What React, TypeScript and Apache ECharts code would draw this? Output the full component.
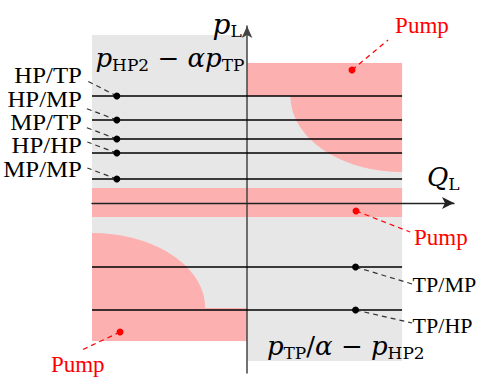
import React, { useEffect, useRef } from "react";
import * as echarts from "echarts";

// ---- data (normalised units: Q_L horizontal, p_L vertical) ----
const upperNames = ["HP/TP", "HP/MP", "MP/TP", "HP/HP", "MP/MP"];
const upperLevels = [1.07, 0.83, 0.64, 0.5, 0.24];
const lowerNames = ["TP/MP", "TP/HP"];
const lowerLevels = [-0.64, -1.07];
const upperDotQ = -0.84;
const lowerDotQ = 0.7;
const lineQFrom = -1;
const lineQTo = 1;

// operating regions [q0, q1, p0, p1]
const grayRegions = [
  [-1, 0, -1.38, 1.68],
  [0, 1, -1.58, 1.4],
];
const pumpRects = [
  [0, 1, 1.07, 1.4],
  [-1, 1, -0.14, 0.15],
  [-1, 0, -1.38, -1.05],
];
// quarter ellipses [centreQ, centreP, radiusQ, radiusP, dirQ, dirP]
const pumpEllipses = [
  [1, 1.07, 0.72, 0.76, -1, -1],
  [-1, -1.05, 0.73, 0.75, 1, 1],
];

// callout anchors (leader end, text anchor)
const upperLeaderEnds = [
  [-1.03, 1.22],
  [-1.045, 0.95],
  [-1.045, 0.76],
  [-1.03, 0.61],
  [-1.03, 0.35],
];
const upperTextQ = -1.065;
const upperTextP = [1.275, 1.04, 0.805, 0.58, 0.335];
const lowerLeaderEnds = [
  [1.065, -0.81],
  [1.065, -1.2],
];
const lowerTextQ = 1.068;
const lowerTextP = [-0.815, -1.225];
const pumpLabel = "Pump";
const pumpDots = [
  [0.677, 1.33],
  [0.703, -0.08],
  [-0.819, -1.29],
];
const pumpLeaderEnds = [
  [0.91, 1.63],
  [1.052, -0.29],
  [-1.065, -1.47],
];
const pumpTextAnchors = [
  [0.955, 1.78],
  [1.077, -0.345],
  [-1.265, -1.615],
];

// formula labels [q, p] (left edge, vertical centre)
const formulaTexts = [
  "{i|p}{s|HP2}{o| − }{i|αp}{s|TP}",
  "{i|p}{s|TP}{o|/}{i|α}{o| − }{i|p}{s|HP2}",
  "{b|p}{s|L}",
  "{i|Q}{s|L}",
];
const formulaAnchors = [
  [-0.978, 1.455],
  [0.128, -1.425],
  [-0.222, 1.79],
  [1.161, 0.26],
];

const PINK = "#FCB0B0";
const GRAY = "#E7E7E7";
const RED = "#FF0000";

type Callout = {
  text: string;
  dot: number[];
  end: number[];
  anchor: number[];
  align: string;
  color: string;
  dash: string;
  size: number;
  stretch: number;
};

const callouts: Callout[] = [
  ...upperNames.map((n, i) => ({
    text: n,
    dot: [upperDotQ, upperLevels[i]],
    end: upperLeaderEnds[i],
    anchor: [upperTextQ, upperTextP[i]],
    align: "right",
    color: "#000",
    dash: "#333",
    size: 23,
    stretch: 1.08,
  })),
  ...lowerNames.map((n, i) => ({
    text: n,
    dot: [lowerDotQ, lowerLevels[i]],
    end: lowerLeaderEnds[i],
    anchor: [lowerTextQ, lowerTextP[i]],
    align: "left",
    color: "#000",
    dash: "#333",
    size: 22,
    stretch: 1,
  })),
  ...pumpDots.map((d, i) => ({
    text: pumpLabel,
    dot: d,
    end: pumpLeaderEnds[i],
    anchor: pumpTextAnchors[i],
    align: "left",
    color: RED,
    dash: RED,
    size: 23,
    stretch: 1,
  })),
];

export default function App() {
  const ref = useRef<HTMLDivElement>(null);
  useEffect(() => {
    if (!ref.current) return;
    const chart = echarts.init(ref.current, undefined, { renderer: "svg" });

    const shapes: any[] = [
      ...grayRegions.map((r) => [...r, 0, 0, 0]),
      ...pumpRects.map((r) => [...r, 1, 0, 0]),
    ];

    const option: any = {
      animation: false,
      grid: { left: 92, top: 26, width: 362, height: 347 },
      xAxis: {
        type: "value",
        min: -1,
        max: 1.335,
        z: 3,
        axisLine: {
          onZero: true,
          symbol: ["none", "arrow"],
          symbolSize: [9, 12],
          lineStyle: { color: "#222", width: 1.3 },
        },
        axisTick: { show: false },
        axisLabel: { show: false },
        splitLine: { show: false },
      },
      yAxis: {
        type: "value",
        min: -1.7,
        max: 1.77,
        z: 3,
        axisLine: {
          onZero: true,
          symbol: ["none", "arrow"],
          symbolSize: [8, 12],
          lineStyle: { color: "#444", width: 1.5 },
        },
        axisTick: { show: false },
        axisLabel: { show: false },
        splitLine: { show: false },
      },
      series: [
        {
          type: "custom",
          name: "regions",
          z: 1,
          silent: true,
          data: shapes,
          renderItem: (params: any, api: any) => {
            const q0 = api.value(0), q1 = api.value(1), p0 = api.value(2), p1 = api.value(3);
            const kind = api.value(4);
            const a = api.coord([q0, p1]);
            const b = api.coord([q1, p0]);
            return {
              type: "rect",
              shape: { x: a[0], y: a[1], width: b[0] - a[0], height: b[1] - a[1] },
              style: { fill: kind === 1 ? PINK : GRAY },
            };
          },
        },
        {
          type: "custom",
          name: "pumpEllipses",
          z: 1,
          silent: true,
          data: pumpEllipses,
          renderItem: (params: any, api: any) => {
            const cq = api.value(0), cp = api.value(1), rq = api.value(2), rp = api.value(3);
            const dq = api.value(4), dp = api.value(5);
            const pts: number[][] = [api.coord([cq, cp])];
            const n = 48;
            for (let k = 0; k <= n; k++) {
              const t = (k / n) * (Math.PI / 2);
              pts.push(api.coord([cq + dq * rq * Math.cos(t), cp + dp * rp * Math.sin(t)]));
            }
            return { type: "polygon", shape: { points: pts }, style: { fill: PINK } };
          },
        },
        {
          type: "custom",
          name: "levels",
          z: 4,
          silent: true,
          data: [...upperLevels, ...lowerLevels].map((p) => [lineQFrom, lineQTo, p]),
          renderItem: (params: any, api: any) => {
            const a = api.coord([api.value(0), api.value(2)]);
            const b = api.coord([api.value(1), api.value(2)]);
            return {
              type: "line",
              shape: { x1: a[0], y1: a[1], x2: b[0], y2: b[1] },
              style: { stroke: "#000", lineWidth: 1.3 },
            };
          },
        },
        {
          type: "custom",
          name: "callouts",
          z: 5,
          silent: true,
          data: callouts.map((c, i) => [c.dot[0], c.dot[1], c.end[0], c.end[1], c.anchor[0], c.anchor[1], i]),
          renderItem: (params: any, api: any) => {
            const c = callouts[api.value(6)];
            const d = api.coord([api.value(0), api.value(1)]);
            const e = api.coord([api.value(2), api.value(3)]);
            const t = api.coord([api.value(4), api.value(5)]);
            const isRed = c.color === RED;
            return {
              type: "group",
              children: [
                {
                  type: "line",
                  shape: { x1: d[0], y1: d[1], x2: e[0], y2: e[1] },
                  style: { stroke: c.dash, lineWidth: 1.2, lineDash: [5, 4] },
                },
                {
                  type: "circle",
                  shape: { cx: d[0], cy: d[1], r: 3.5 },
                  style: { fill: isRed ? RED : "#000" },
                },
                {
                  type: "text",
                  x: t[0],
                  y: t[1],
                  scaleX: c.stretch,
                  style: {
                    text: c.text,
                    fill: c.color,
                    fontSize: c.size,
                    lineHeight: 19,
                    fontFamily: "Liberation Serif",
                    align: c.align,
                    verticalAlign: "middle",
                  },
                },
              ],
            };
          },
        },
        {
          type: "custom",
          name: "formulas",
          z: 6,
          silent: true,
          data: formulaAnchors.map((a, i) => [a[0], a[1], i]),
          renderItem: (params: any, api: any) => {
            const i = api.value(2);
            const t = api.coord([api.value(0), api.value(1)]);
            return {
              type: "text",
              x: t[0],
              y: t[1],
              style: {
                text: formulaTexts[i],
                align: "left",
                verticalAlign: "middle",
                fill: "#000",
                rich: {
                  i: { fontFamily: "DejaVu Serif", fontStyle: "italic", fontSize: 26, fill: "#000" },
                  b: { fontFamily: "DejaVu Serif", fontStyle: "italic", fontSize: 28, fill: "#000" },
                  s: { fontFamily: "DejaVu Serif", fontSize: 17, padding: [14, 0, 0, 0], fill: "#000" },
                  o: { fontFamily: "DejaVu Serif", fontSize: 26, fill: "#000" },
                },
              },
            };
          },
        },
      ],
    };
    chart.setOption(option);
    return () => chart.dispose();
  }, []);
  return (
    <div
      ref={ref}
      style={{ position: "fixed", left: 0, top: 0, width: 479, height: 380, background: "#fff" }}
    />
  );
}
